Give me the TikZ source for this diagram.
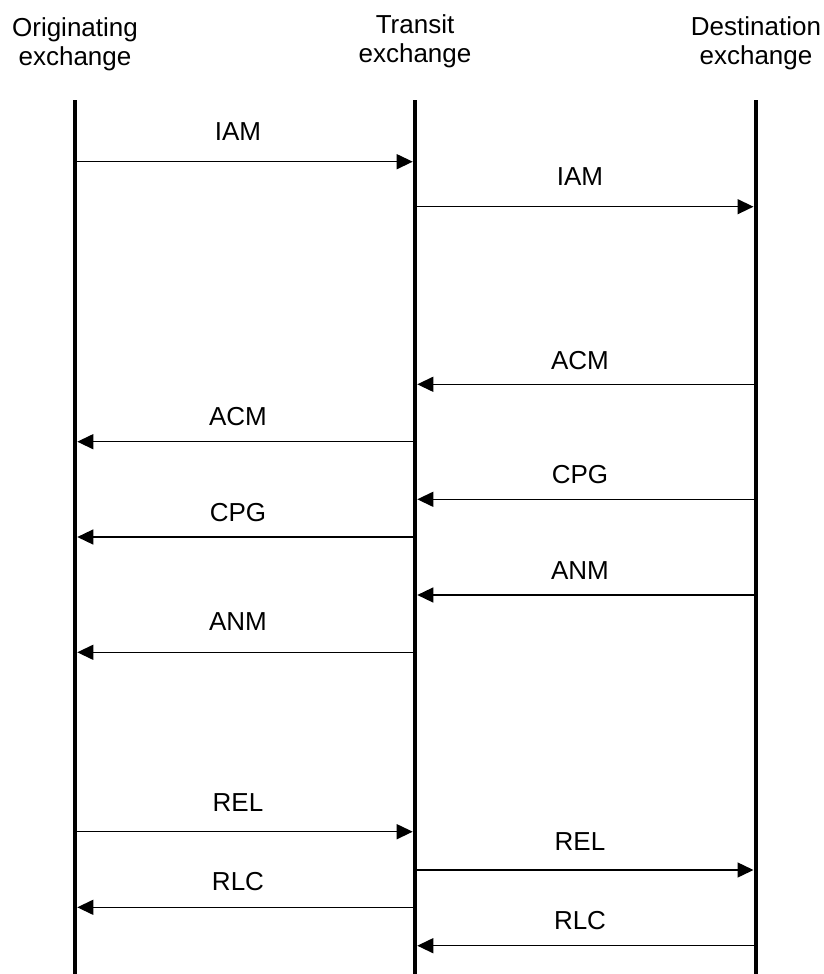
\documentclass[tikz,border=0pt]{standalone}
\usepackage{fontspec}
\setmainfont{Liberation Sans}
\usetikzlibrary{arrows.meta}
\begin{document}
\begin{tikzpicture}[x=1pt,y=-1pt,
  lifeline/.style={line width=4.5pt},
  msg/.style={line width=1.4pt,-{Triangle[length=16pt,width=15pt]}},
  lbl/.style={font=\fontsize{26}{29}\selectfont, anchor=base, inner sep=0pt},
  hdr/.style={font=\fontsize{26}{29}\selectfont, align=center, anchor=base, inner sep=0pt}]
\useasboundingbox (0,0) rectangle (823,974);
% headers (base anchor = baseline of the last line)
\node[hdr] (ho) at (75,65.5) {Originating\\exchange};
\node[hdr] (ht) at (415,63) {Transit\\exchange};
\node[hdr] (hd) at (756,65) {Destination\\exchange};
% lifelines
\coordinate (otop) at (75,100);   \coordinate (obot) at (75,974);
\coordinate (ttop) at (415,100);  \coordinate (tbot) at (415,974);
\coordinate (dtop) at (756,100);  \coordinate (dbot) at (756,974);
\draw[lifeline] (otop) -- (obot);
\draw[lifeline] (ttop) -- (tbot);
\draw[lifeline] (dtop) -- (dbot);
% messages: name / y / from x / to x / label x / label baseline / text
\foreach \n/\y/\a/\b/\lx/\by/\t in {
  1/161.7/77.3/412.7/238/140.7/IAM,
  2/206.7/417.3/753.5/580/185.7/IAM,
  3/384.3/753.5/417.3/580/369/ACM,
  4/441.7/412.7/77.3/238/425.7/ACM,
  5/499.3/753.5/417.3/580/483.3/CPG,
  6/537/412.7/77.3/238/521.7/CPG,
  7/595/753.5/417.3/580/579/ANM,
  8/652.3/412.7/77.3/238/630.7/ANM,
  9/831.7/77.3/412.7/238/811/REL,
  10/870/417.3/753.5/580/850/REL,
  11/907.3/412.7/77.3/238/890.7/RLC,
  12/945.7/753.5/417.3/580/929/RLC}{
  \coordinate (s\n) at (\a,\y);
  \coordinate (e\n) at (\b,\y);
  \draw[msg] (s\n) -- (e\n);
  \node[lbl] (l\n) at (\lx,\by) {\t};
}
\end{tikzpicture}
\end{document}
